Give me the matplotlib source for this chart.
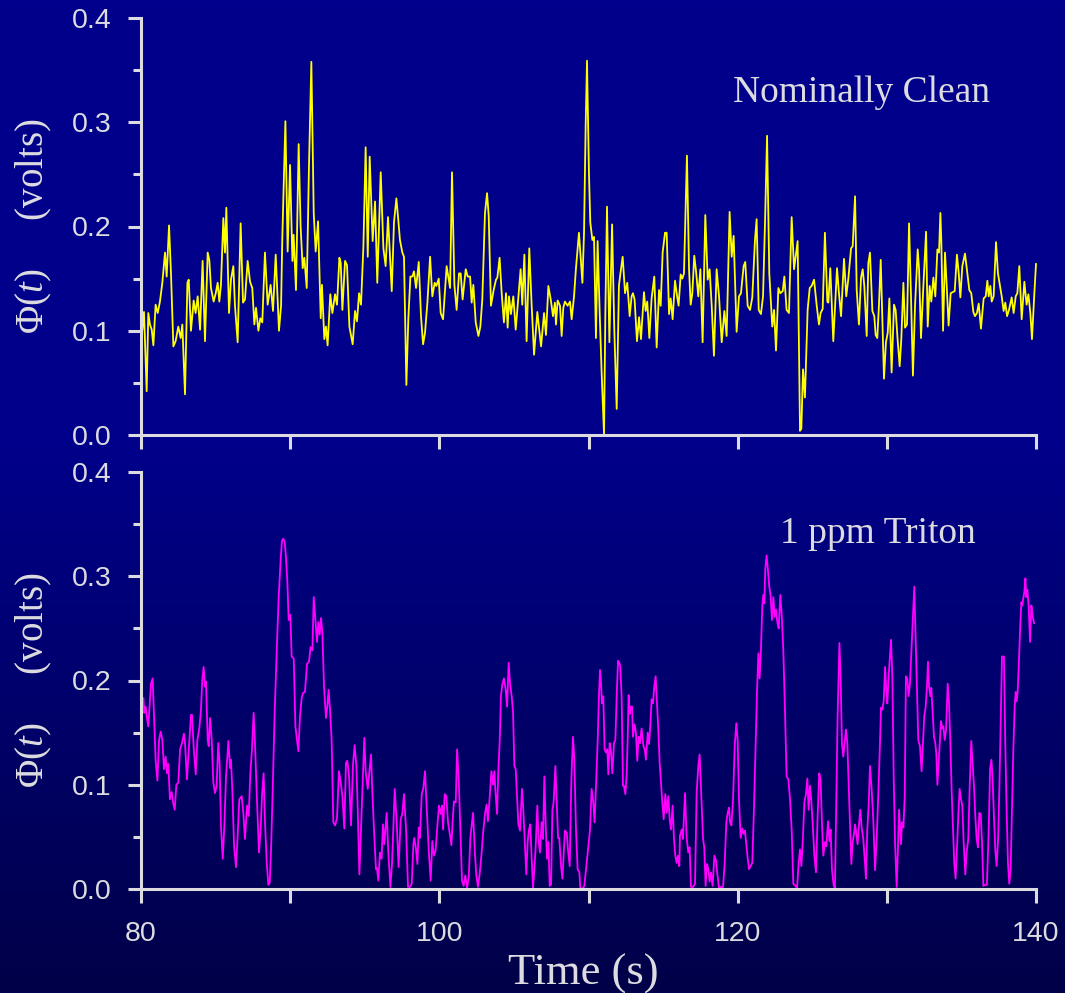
#!/usr/bin/env python3
"""
Two stacked traces of Phi(t): clean water vs 1 ppm Triton, 80-140 s.
Writes out.png
"""

import numpy as np
import matplotlib
matplotlib.use("Agg")
import matplotlib.pyplot as plt
from matplotlib.colors import LinearSegmentedColormap


# --- data --------------------------------------------------------------------

clean_t = [
    80.09, 80.20, 80.38, 80.49, 80.60, 80.72, 80.83, 80.98, 81.12, 81.27,
    81.43, 81.61, 81.72, 81.88, 82.01, 82.17, 82.32, 82.50, 82.66, 82.77,
    82.95, 83.11, 83.20, 83.35, 83.53, 83.66, 83.80, 83.96, 84.13, 84.29,
    84.47, 84.58, 84.69, 84.87, 85.01, 85.14, 85.25, 85.36, 85.52, 85.63,
    85.72, 85.90, 86.03, 86.19, 86.30, 86.48, 86.68, 86.84, 86.97, 87.15,
    87.31, 87.46, 87.60, 87.71, 87.87, 88.00, 88.13, 88.31, 88.49, 88.69,
    88.85, 89.03, 89.25, 89.39, 89.47, 89.68, 89.83, 89.99, 90.15, 90.23,
    90.39, 90.57, 90.70, 90.84, 90.95, 91.11, 91.26, 91.42, 91.58, 91.71,
    91.87, 92.05, 92.13, 92.29, 92.40, 92.51, 92.69, 92.83, 93.01, 93.14,
    93.30, 93.39, 93.50, 93.68, 93.81, 93.97, 94.19, 94.35, 94.48, 94.62,
    94.75, 94.91, 95.06, 95.20, 95.33, 95.53, 95.69, 95.84, 96.07, 96.25,
    96.40, 96.56, 96.81, 96.96, 97.12, 97.25, 97.36, 97.52, 97.63, 97.79,
    97.92, 98.06, 98.19, 98.30, 98.44, 98.62, 98.77, 98.91, 99.04, 99.20,
    99.38, 99.53, 99.69, 99.80, 99.96, 100.09, 100.25, 100.49, 100.67, 100.72,
    100.85, 101.01, 101.16, 101.32, 101.43, 101.56, 101.77, 101.90, 102.06, 102.17,
    102.28, 102.44, 102.62, 102.75, 102.88, 103.06, 103.20, 103.31, 103.46, 103.64,
    103.80, 103.89, 104.04, 104.18, 104.33, 104.47, 104.58, 104.67, 104.80, 104.96,
    105.12, 105.30, 105.45, 105.56, 105.70, 105.85, 106.03, 106.19, 106.35, 106.57,
    106.68, 106.82, 107.02, 107.15, 107.31, 107.49, 107.62, 107.75, 107.82, 107.93,
    108.09, 108.20, 108.31, 108.42, 108.60, 108.76, 108.87, 109.03, 109.16, 109.36,
    109.59, 109.70, 109.81, 109.90, 110.03, 110.12, 110.26, 110.37, 110.50, 110.61,
    110.75, 110.88, 111.04, 111.13, 111.24, 111.40, 111.58, 111.73, 111.89, 112.04,
    112.13, 112.29, 112.45, 112.60, 112.76, 112.89, 112.98, 113.09, 113.25, 113.39,
    113.52, 113.72, 113.83, 113.94, 114.08, 114.23, 114.41, 114.57, 114.73, 114.84,
    114.97, 115.13, 115.24, 115.40, 115.51, 115.64, 115.80, 115.91, 116.04, 116.18,
    116.29, 116.40, 116.60, 116.74, 116.85, 116.96, 117.09, 117.21, 117.36, 117.50,
    117.65, 117.83, 117.99, 118.12, 118.26, 118.41, 118.59, 118.75, 118.93, 119.11,
    119.26, 119.46, 119.60, 119.73, 119.93, 120.09, 120.22, 120.40, 120.51, 120.67,
    120.83, 120.98, 121.16, 121.27, 121.41, 121.56, 121.70, 121.83, 121.97, 122.12,
    122.32, 122.44, 122.57, 122.73, 122.86, 123.02, 123.13, 123.28, 123.44, 123.62,
    123.78, 123.89, 124.02, 124.18, 124.27, 124.38, 124.51, 124.69, 124.83, 124.96,
    125.12, 125.30, 125.45, 125.56, 125.70, 125.85, 126.01, 126.08, 126.21, 126.41,
    126.66, 126.79, 126.93, 127.13, 127.28, 127.42, 127.60, 127.71, 127.87, 127.98,
    128.13, 128.27, 128.38, 128.49, 128.65, 128.76, 128.87, 129.03, 129.16, 129.25,
    129.36, 129.47, 129.59, 129.70, 129.81, 129.94, 130.06, 130.17, 130.32, 130.48,
    130.59, 130.73, 130.86, 130.97, 131.11, 131.22, 131.35, 131.49, 131.62, 131.75,
    131.89, 132.07, 132.16, 132.29, 132.45, 132.63, 132.74, 132.87, 132.98, 133.12,
    133.25, 133.39, 133.50, 133.59, 133.65, 133.77, 133.90, 134.01, 134.14, 134.28,
    134.41, 134.55, 134.70, 134.82, 134.93, 135.06, 135.24, 135.40, 135.53, 135.66,
    135.80, 135.91, 136.04, 136.16, 136.31, 136.49, 136.63, 136.74, 136.83, 136.94,
    137.03, 137.16, 137.32, 137.45, 137.59, 137.70, 137.83, 137.94, 138.06, 138.19,
    138.37, 138.50, 138.64, 138.75, 138.88, 139.04, 139.22, 139.37, 139.49, 139.62,
    139.73, 139.89, 140.00,
]

clean_v = [
    0.101, 0.118, 0.042, 0.117, 0.106, 0.101, 0.086, 0.125, 0.117, 0.128,
    0.146, 0.175, 0.152, 0.201, 0.155, 0.085, 0.090, 0.104, 0.093, 0.106,
    0.039, 0.146, 0.149, 0.100, 0.129, 0.117, 0.133, 0.101, 0.167, 0.090,
    0.175, 0.168, 0.141, 0.128, 0.136, 0.146, 0.128, 0.144, 0.208, 0.175,
    0.218, 0.117, 0.149, 0.162, 0.124, 0.089, 0.203, 0.127, 0.130, 0.167,
    0.147, 0.141, 0.106, 0.122, 0.100, 0.112, 0.108, 0.175, 0.125, 0.144,
    0.119, 0.173, 0.100, 0.124, 0.187, 0.301, 0.176, 0.259, 0.167, 0.192,
    0.139, 0.279, 0.200, 0.160, 0.170, 0.141, 0.257, 0.358, 0.213, 0.176,
    0.205, 0.112, 0.144, 0.092, 0.104, 0.086, 0.135, 0.117, 0.135, 0.125,
    0.170, 0.165, 0.120, 0.167, 0.163, 0.104, 0.087, 0.119, 0.109, 0.136,
    0.125, 0.181, 0.276, 0.171, 0.267, 0.186, 0.224, 0.146, 0.252, 0.179,
    0.162, 0.209, 0.138, 0.204, 0.227, 0.206, 0.187, 0.175, 0.171, 0.048,
    0.111, 0.152, 0.152, 0.157, 0.141, 0.166, 0.114, 0.087, 0.098, 0.127,
    0.171, 0.133, 0.146, 0.143, 0.150, 0.117, 0.111, 0.162, 0.146, 0.141,
    0.252, 0.144, 0.120, 0.155, 0.155, 0.130, 0.159, 0.152, 0.152, 0.127,
    0.144, 0.108, 0.095, 0.104, 0.130, 0.213, 0.232, 0.210, 0.124, 0.139,
    0.149, 0.151, 0.170, 0.136, 0.108, 0.136, 0.103, 0.133, 0.116, 0.133,
    0.101, 0.133, 0.159, 0.125, 0.173, 0.090, 0.179, 0.124, 0.077, 0.118,
    0.103, 0.085, 0.117, 0.096, 0.143, 0.128, 0.114, 0.127, 0.106, 0.129,
    0.124, 0.095, 0.122, 0.128, 0.124, 0.128, 0.111, 0.133, 0.160, 0.194,
    0.146, 0.194, 0.297, 0.359, 0.251, 0.204, 0.187, 0.190, 0.093, 0.186,
    0.117, 0.060, 0.001, 0.117, 0.219, 0.089, 0.202, 0.101, 0.025, 0.143,
    0.154, 0.171, 0.136, 0.146, 0.114, 0.133, 0.136, 0.130, 0.090, 0.113,
    0.092, 0.137, 0.119, 0.128, 0.093, 0.131, 0.152, 0.084, 0.139, 0.124,
    0.175, 0.194, 0.194, 0.116, 0.131, 0.111, 0.148, 0.136, 0.124, 0.154,
    0.150, 0.155, 0.268, 0.159, 0.125, 0.136, 0.172, 0.157, 0.133, 0.159,
    0.089, 0.211, 0.149, 0.159, 0.124, 0.076, 0.159, 0.133, 0.089, 0.119,
    0.095, 0.214, 0.171, 0.191, 0.099, 0.133, 0.136, 0.162, 0.166, 0.124,
    0.120, 0.132, 0.187, 0.207, 0.120, 0.116, 0.133, 0.202, 0.287, 0.155,
    0.104, 0.120, 0.081, 0.141, 0.136, 0.138, 0.152, 0.120, 0.117, 0.209,
    0.159, 0.171, 0.186, 0.004, 0.006, 0.063, 0.036, 0.120, 0.141, 0.143,
    0.149, 0.124, 0.106, 0.117, 0.121, 0.194, 0.128, 0.127, 0.160, 0.090,
    0.160, 0.136, 0.114, 0.169, 0.133, 0.150, 0.179, 0.181, 0.229, 0.139,
    0.106, 0.151, 0.159, 0.143, 0.095, 0.165, 0.175, 0.119, 0.114, 0.096,
    0.093, 0.124, 0.168, 0.111, 0.054, 0.089, 0.098, 0.131, 0.060, 0.125,
    0.120, 0.090, 0.066, 0.092, 0.146, 0.103, 0.106, 0.203, 0.133, 0.057,
    0.124, 0.178, 0.159, 0.093, 0.143, 0.195, 0.104, 0.143, 0.128, 0.151,
    0.133, 0.178, 0.175, 0.213, 0.187, 0.100, 0.175, 0.144, 0.105, 0.136,
    0.137, 0.138, 0.173, 0.155, 0.132, 0.162, 0.174, 0.155, 0.139, 0.136,
    0.118, 0.114, 0.117, 0.126, 0.102, 0.131, 0.133, 0.148, 0.133, 0.143,
    0.128, 0.133, 0.185, 0.155, 0.143, 0.133, 0.119, 0.127, 0.114, 0.120,
    0.132, 0.117, 0.133, 0.136, 0.162, 0.111, 0.147, 0.125, 0.135, 0.117,
    0.092, 0.136, 0.164,
]

triton_t = [
    80.16, 80.22, 80.31, 80.38, 80.49, 80.56, 80.67, 80.78, 80.87, 80.98,
    81.10, 81.21, 81.32, 81.43, 81.54, 81.65, 81.74, 81.83, 81.94, 82.06,
    82.15, 82.26, 82.37, 82.50, 82.62, 82.75, 82.88, 82.95, 83.08, 83.22,
    83.35, 83.42, 83.53, 83.67, 83.78, 83.91, 84.02, 84.11, 84.20, 84.29,
    84.36, 84.47, 84.54, 84.63, 84.74, 84.85, 84.96, 85.07, 85.18, 85.27,
    85.36, 85.48, 85.59, 85.70, 85.86, 85.97, 86.03, 86.12, 86.24, 86.37,
    86.48, 86.59, 86.75, 86.86, 86.97, 87.11, 87.22, 87.33, 87.44, 87.55,
    87.64, 87.78, 87.91, 88.02, 88.11, 88.22, 88.31, 88.43, 88.54, 88.63,
    88.72, 88.83, 88.96, 89.10, 89.23, 89.36, 89.45, 89.54, 89.63, 89.72,
    89.81, 89.90, 90.01, 90.10, 90.24, 90.35, 90.46, 90.55, 90.66, 90.77,
    90.86, 90.99, 91.13, 91.26, 91.37, 91.49, 91.58, 91.69, 91.80, 91.89,
    91.98, 92.07, 92.16, 92.27, 92.40, 92.49, 92.58, 92.67, 92.78, 92.89,
    93.01, 93.14, 93.27, 93.39, 93.50, 93.63, 93.74, 93.83, 93.94, 94.08,
    94.21, 94.32, 94.44, 94.53, 94.64, 94.79, 94.88, 94.97, 95.06, 95.20,
    95.31, 95.42, 95.51, 95.62, 95.75, 95.82, 95.91, 96.02, 96.13, 96.22,
    96.31, 96.47, 96.58, 96.72, 96.83, 97.01, 97.14, 97.27, 97.41, 97.52,
    97.63, 97.77, 97.90, 98.03, 98.15, 98.26, 98.32, 98.44, 98.53, 98.62,
    98.70, 98.82, 98.93, 99.04, 99.15, 99.29, 99.42, 99.53, 99.64, 99.75,
    99.87, 99.98, 100.09, 100.18, 100.25, 100.36, 100.47, 100.58, 100.69, 100.81,
    100.89, 100.98, 101.10, 101.19, 101.30, 101.41, 101.52, 101.63, 101.74, 101.86,
    101.97, 102.08, 102.26, 102.39, 102.48, 102.59, 102.70, 102.82, 102.93, 103.06,
    103.17, 103.26, 103.38, 103.49, 103.60, 103.69, 103.75, 103.87, 103.96, 104.05,
    104.13, 104.22, 104.33, 104.45, 104.54, 104.65, 104.74, 104.85, 104.94, 105.03,
    105.12, 105.21, 105.30, 105.41, 105.54, 105.63, 105.74, 105.83, 105.92, 106.01,
    106.10, 106.19, 106.28, 106.37, 106.46, 106.57, 106.66, 106.75, 106.86, 106.95,
    107.04, 107.13, 107.22, 107.31, 107.40, 107.49, 107.58, 107.66, 107.78, 107.87,
    107.96, 108.04, 108.16, 108.25, 108.33, 108.42, 108.54, 108.63, 108.74, 108.85,
    108.96, 109.05, 109.16, 109.27, 109.39, 109.45, 109.59, 109.72, 109.83, 109.97,
    110.10, 110.21, 110.32, 110.41, 110.52, 110.61, 110.70, 110.77, 110.84, 110.90,
    110.99, 111.08, 111.17, 111.26, 111.33, 111.42, 111.51, 111.60, 111.71, 111.80,
    111.89, 111.98, 112.07, 112.13, 112.22, 112.31, 112.38, 112.47, 112.56, 112.63,
    112.69, 112.76, 112.85, 112.92, 112.98, 113.09, 113.18, 113.27, 113.36, 113.45,
    113.56, 113.68, 113.77, 113.85, 113.97, 114.06, 114.15, 114.23, 114.32, 114.41,
    114.50, 114.59, 114.68, 114.77, 114.86, 114.95, 115.04, 115.15, 115.24, 115.35,
    115.44, 115.53, 115.64, 115.73, 115.82, 115.91, 116.00, 116.09, 116.13, 116.25,
    116.33, 116.47, 116.58, 116.69, 116.78, 116.87, 117.01, 117.14, 117.25, 117.36,
    117.45, 117.56, 117.68, 117.76, 117.85, 117.94, 118.03, 118.12, 118.21, 118.32,
    118.44, 118.55, 118.64, 118.75, 118.88, 119.02, 119.13, 119.24, 119.33, 119.42,
    119.49, 119.58, 119.69, 119.80, 119.91, 120.00, 120.09, 120.20, 120.31, 120.40,
    120.49, 120.63, 120.76, 120.87, 120.98, 121.09, 121.21, 121.30, 121.39, 121.47,
    121.56, 121.65, 121.72, 121.79, 121.85, 121.94, 122.03, 122.12, 122.21, 122.30,
    122.39, 122.48, 122.57, 122.66, 122.75, 122.86, 122.95, 123.06, 123.17, 123.28,
    123.40, 123.51, 123.62, 123.73, 123.87, 123.98, 124.09, 124.18, 124.27, 124.38,
    124.47, 124.58, 124.67, 124.76, 124.85, 124.94, 125.05, 125.14, 125.25, 125.36,
    125.47, 125.56, 125.65, 125.74, 125.85, 125.94, 126.06, 126.15, 126.23, 126.32,
    126.44, 126.52, 126.61, 126.70, 126.82, 126.90, 126.99, 127.08, 127.17, 127.26,
    127.35, 127.44, 127.53, 127.62, 127.71, 127.80, 127.87, 127.95, 128.04, 128.13,
    128.22, 128.31, 128.42, 128.54, 128.60, 128.69, 128.78, 128.87, 128.98, 129.09,
    129.21, 129.32, 129.43, 129.54, 129.61, 129.70, 129.79, 129.88, 129.97, 130.03,
    130.12, 130.21, 130.28, 130.37, 130.46, 130.55, 130.66, 130.75, 130.82, 130.88,
    130.95, 131.02, 131.11, 131.20, 131.28, 131.37, 131.46, 131.55, 131.64, 131.73,
    131.84, 131.93, 132.02, 132.11, 132.22, 132.33, 132.42, 132.51, 132.60, 132.69,
    132.76, 132.83, 132.92, 132.98, 133.07, 133.16, 133.25, 133.32, 133.39, 133.47,
    133.56, 133.63, 133.72, 133.79, 133.88, 133.97, 134.08, 134.17, 134.26, 134.35,
    134.44, 134.52, 134.61, 134.70, 134.79, 134.88, 134.97, 135.06, 135.15, 135.26,
    135.35, 135.46, 135.55, 135.66, 135.75, 135.84, 135.93, 136.02, 136.11, 136.20,
    136.29, 136.38, 136.47, 136.58, 136.71, 136.83, 136.92, 137.01, 137.09, 137.18,
    137.27, 137.36, 137.47, 137.56, 137.65, 137.72, 137.79, 137.85, 137.94, 138.03,
    138.12, 138.21, 138.30, 138.39, 138.48, 138.57, 138.64, 138.70, 138.77, 138.86,
    138.95, 139.02, 139.08, 139.15, 139.22, 139.29, 139.35, 139.42, 139.51, 139.60,
    139.69, 139.78, 139.87,
]

triton_v = [
    0.183, 0.169, 0.175, 0.166, 0.156, 0.172, 0.197, 0.202, 0.166, 0.124,
    0.104, 0.143, 0.151, 0.143, 0.115, 0.127, 0.111, 0.120, 0.086, 0.093,
    0.083, 0.076, 0.100, 0.102, 0.134, 0.140, 0.149, 0.140, 0.105, 0.137,
    0.167, 0.167, 0.136, 0.110, 0.143, 0.154, 0.172, 0.201, 0.213, 0.194,
    0.199, 0.143, 0.137, 0.164, 0.143, 0.102, 0.092, 0.099, 0.140, 0.121,
    0.061, 0.029, 0.061, 0.108, 0.142, 0.116, 0.124, 0.096, 0.041, 0.021,
    0.051, 0.086, 0.089, 0.073, 0.048, 0.080, 0.070, 0.111, 0.134, 0.169,
    0.140, 0.083, 0.035, 0.057, 0.089, 0.111, 0.065, 0.025, 0.004, 0.006,
    0.038, 0.096, 0.169, 0.229, 0.280, 0.315, 0.334, 0.336, 0.333, 0.318,
    0.295, 0.258, 0.263, 0.223, 0.221, 0.156, 0.143, 0.132, 0.166, 0.183,
    0.188, 0.189, 0.216, 0.218, 0.232, 0.229, 0.280, 0.258, 0.237, 0.256,
    0.244, 0.260, 0.245, 0.194, 0.164, 0.175, 0.191, 0.172, 0.143, 0.064,
    0.061, 0.068, 0.113, 0.102, 0.089, 0.058, 0.121, 0.123, 0.110, 0.061,
    0.119, 0.138, 0.118, 0.076, 0.014, 0.073, 0.111, 0.145, 0.113, 0.096,
    0.113, 0.129, 0.092, 0.057, 0.019, 0.020, 0.008, 0.035, 0.029, 0.062,
    0.043, 0.073, 0.035, 0.002, 0.025, 0.096, 0.064, 0.021, 0.067, 0.072,
    0.091, 0.057, 0.002, 0.002, 0.005, 0.043, 0.049, 0.038, 0.024, 0.059,
    0.049, 0.091, 0.097, 0.113, 0.080, 0.037, 0.008, 0.046, 0.032, 0.037,
    0.061, 0.080, 0.072, 0.080, 0.057, 0.091, 0.089, 0.064, 0.054, 0.042,
    0.065, 0.084, 0.083, 0.134, 0.105, 0.056, 0.008, 0.003, 0.013, 0.001,
    0.011, 0.049, 0.073, 0.033, 0.013, 0.002, 0.014, 0.032, 0.053, 0.072,
    0.081, 0.065, 0.089, 0.113, 0.100, 0.113, 0.096, 0.072, 0.115, 0.143,
    0.185, 0.196, 0.202, 0.191, 0.175, 0.217, 0.197, 0.185, 0.170, 0.118,
    0.115, 0.089, 0.062, 0.056, 0.096, 0.076, 0.041, 0.014, 0.045, 0.057,
    0.062, 0.029, 0.001, 0.019, 0.041, 0.080, 0.045, 0.035, 0.064, 0.048,
    0.108, 0.061, 0.029, 0.045, 0.003, 0.004, 0.076, 0.083, 0.118, 0.083,
    0.049, 0.049, 0.022, 0.010, 0.032, 0.056, 0.054, 0.037, 0.022, 0.105,
    0.146, 0.124, 0.057, 0.019, 0.016, 0.001, 0.000, 0.003, 0.018, 0.038,
    0.057, 0.096, 0.083, 0.064, 0.105, 0.140, 0.185, 0.210, 0.197, 0.178,
    0.185, 0.134, 0.131, 0.134, 0.110, 0.140, 0.132, 0.111, 0.140, 0.143,
    0.185, 0.219, 0.217, 0.213, 0.185, 0.099, 0.099, 0.091, 0.110, 0.146,
    0.186, 0.168, 0.175, 0.175, 0.146, 0.158, 0.150, 0.123, 0.146, 0.140,
    0.154, 0.137, 0.134, 0.124, 0.150, 0.139, 0.159, 0.182, 0.178, 0.194,
    0.204, 0.178, 0.153, 0.121, 0.102, 0.083, 0.067, 0.091, 0.073, 0.089,
    0.067, 0.057, 0.080, 0.048, 0.032, 0.025, 0.032, 0.022, 0.051, 0.057,
    0.048, 0.092, 0.049, 0.035, 0.040, 0.002, 0.002, 0.005, 0.092, 0.118,
    0.129, 0.089, 0.048, 0.040, 0.003, 0.024, 0.019, 0.007, 0.016, 0.003,
    0.032, 0.027, 0.014, 0.001, 0.002, 0.002, 0.025, 0.064, 0.073, 0.078,
    0.064, 0.061, 0.086, 0.137, 0.159, 0.143, 0.086, 0.049, 0.058, 0.053,
    0.056, 0.035, 0.019, 0.022, 0.025, 0.076, 0.140, 0.191, 0.226, 0.202,
    0.229, 0.271, 0.282, 0.274, 0.307, 0.320, 0.306, 0.290, 0.281, 0.258,
    0.280, 0.261, 0.268, 0.256, 0.250, 0.282, 0.264, 0.229, 0.172, 0.108,
    0.105, 0.086, 0.057, 0.005, 0.003, 0.001, 0.025, 0.038, 0.022, 0.051,
    0.083, 0.091, 0.106, 0.076, 0.099, 0.084, 0.057, 0.032, 0.016, 0.070,
    0.111, 0.105, 0.064, 0.032, 0.045, 0.041, 0.065, 0.046, 0.057, 0.019,
    0.003, 0.001, 0.086, 0.166, 0.236, 0.204, 0.140, 0.127, 0.140, 0.153,
    0.140, 0.102, 0.061, 0.024, 0.045, 0.053, 0.062, 0.053, 0.043, 0.061,
    0.076, 0.059, 0.048, 0.024, 0.010, 0.057, 0.080, 0.118, 0.096, 0.067,
    0.018, 0.048, 0.092, 0.140, 0.174, 0.172, 0.180, 0.213, 0.189, 0.178,
    0.204, 0.223, 0.239, 0.204, 0.108, 0.045, 0.002, 0.041, 0.076, 0.061,
    0.043, 0.064, 0.059, 0.089, 0.204, 0.202, 0.185, 0.197, 0.226, 0.255,
    0.290, 0.242, 0.191, 0.143, 0.137, 0.113, 0.140, 0.166, 0.174, 0.194,
    0.218, 0.194, 0.185, 0.193, 0.170, 0.146, 0.140, 0.129, 0.100, 0.121,
    0.143, 0.161, 0.154, 0.156, 0.143, 0.153, 0.197, 0.178, 0.140, 0.092,
    0.057, 0.025, 0.010, 0.038, 0.070, 0.096, 0.086, 0.080, 0.045, 0.014,
    0.035, 0.048, 0.096, 0.142, 0.121, 0.099, 0.070, 0.048, 0.040, 0.073,
    0.072, 0.045, 0.003, 0.004, 0.004, 0.057, 0.115, 0.124, 0.105, 0.070,
    0.038, 0.022, 0.051, 0.108, 0.172, 0.223, 0.223, 0.223, 0.140, 0.076,
    0.025, 0.005, 0.019, 0.076, 0.134, 0.175, 0.189, 0.180, 0.189, 0.220,
    0.255, 0.275, 0.272, 0.279, 0.285, 0.298, 0.280, 0.287, 0.272, 0.237,
    0.272, 0.261, 0.255,
]

y_ticks = [0.0, 0.1, 0.2, 0.3, 0.4]
y_minor = [0.05, 0.15, 0.25, 0.35]
x_ticks = [80, 100, 120, 140]
x_minor = [90, 110, 130]

panels = [
    (clean_t, clean_v, "#FFFF00", "Nominally Clean", (119.7, 0.319)),
    (triton_t, triton_v, "#FF00FF", "1 ppm Triton", (122.85, 0.332)),
]

FG = "#DCDCE0"
W, H = 1065, 993


def add_background(fig):
    # vertical navy gradient, darker toward the bottom
    bg = fig.add_axes([0, 0, 1, 1], zorder=-10)
    bg.axis("off")
    cmap = LinearSegmentedColormap.from_list(
        "navy", [(0.0, "#00008C"), (0.45, "#00008A"), (1.0, "#000048")]
    )
    grad = np.linspace(0, 1, 256).reshape(-1, 1)
    bg.imshow(grad, aspect="auto", cmap=cmap, extent=[0, 1, 1, 0])
    bg.set_xlim(0, 1)
    bg.set_ylim(1, 0)


def style_axis(ax, show_xlabels):
    ax.set_facecolor("none")
    for side in ("top", "right"):
        ax.spines[side].set_visible(False)
    for side in ("left", "bottom"):
        ax.spines[side].set_color(FG)
        ax.spines[side].set_linewidth(2.2)

    ax.set_xlim(80, 140)
    ax.set_ylim(0, 0.4)
    ax.set_xticks(x_ticks)
    ax.set_xticks(x_minor, minor=True)
    ax.set_yticks(y_ticks)
    ax.set_yticks(y_minor, minor=True)
    ax.set_yticklabels([f"{v:.1f}" for v in y_ticks])
    if show_xlabels:
        ax.set_xticklabels([str(v) for v in x_ticks])
    else:
        ax.set_xticklabels([])

    ax.tick_params(axis="both", which="both", direction="out", color=FG,
                   width=2.2, labelcolor=FG, labelsize=20.5)
    ax.tick_params(axis="x", which="both", length=10, pad=13)
    ax.tick_params(axis="y", which="major", length=9.4, pad=12)
    ax.tick_params(axis="y", which="minor", length=5.8)
    for lab in ax.get_xticklabels() + ax.get_yticklabels():
        lab.set_family("Liberation Sans")


def main():
    plt.rcParams["mathtext.fontset"] = "custom"
    plt.rcParams["mathtext.rm"] = "Liberation Serif"
    plt.rcParams["mathtext.it"] = "Liberation Serif:italic"

    fig = plt.figure(figsize=(W / 100, H / 100), dpi=100)
    add_background(fig)

    left = 141 / W
    width = (1036 - 141) / W
    boxes = [(18, 435), (472, 889)]

    for i, ((t, v, color, note, note_xy), (top_px, bot_px)) in enumerate(zip(panels, boxes)):
        ax = fig.add_axes([left, 1 - bot_px / H, width, (bot_px - top_px) / H])
        style_axis(ax, show_xlabels=(i == 1))
        ax.plot(t, v, color=color, lw=1.3, clip_on=False)
        ax.text(note_xy[0], note_xy[1], note, color=FG, fontsize=27,
                family="Liberation Serif", ha="left", va="baseline")

        # y label, centred on the panel
        fig.text(34 / W, 1 - (top_px + bot_px) / 2 / H, "Φ($t$)     (volts)",
                 rotation=90, ha="center", va="center", color=FG,
                 fontsize=28, family="Liberation Serif")

    fig.text(583 / W, 1 - 985 / H, "Time (s)", ha="center", va="baseline",
             color=FG, fontsize=32, family="Liberation Serif")

    fig.savefig("out.png", dpi=100)
    plt.close(fig)


if __name__ == "__main__":
    main()
